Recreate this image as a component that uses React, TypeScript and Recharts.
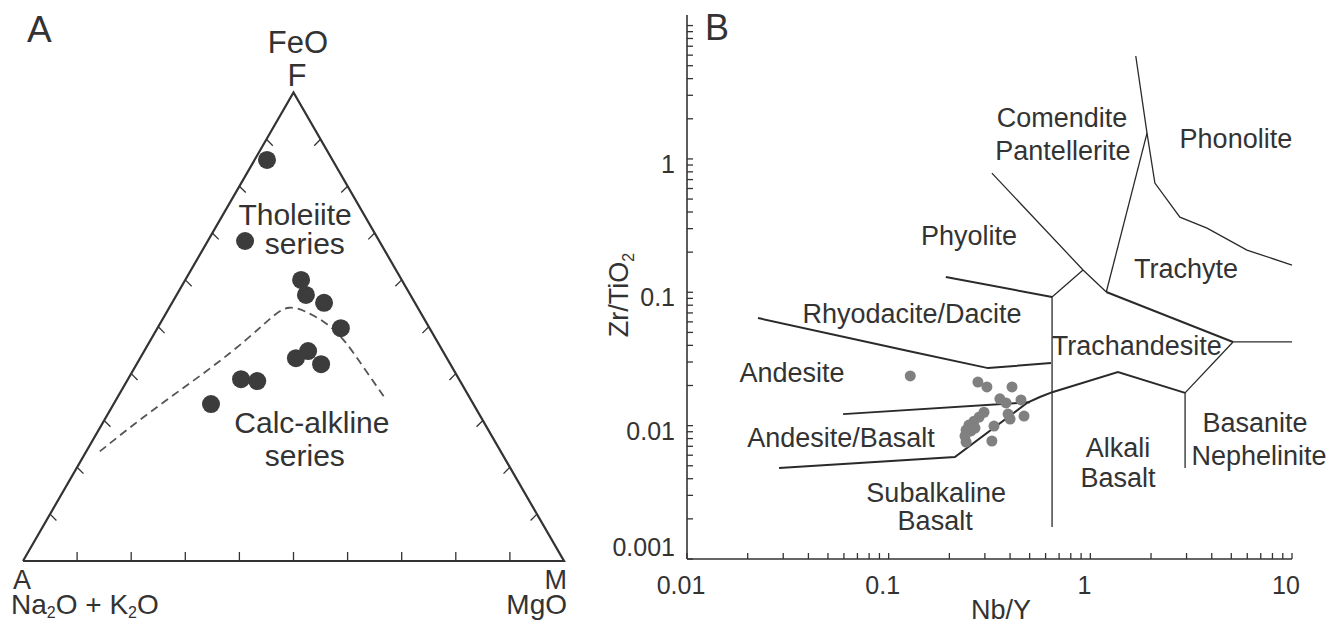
import React from 'react';
import { ScatterChart, Scatter, XAxis, YAxis, ReferenceLine } from 'recharts';

const FONT = '"Liberation Sans", Arial, Helvetica, sans-serif';
const INK = '#333333';
const SQ3 = Math.sqrt(3) / 2;

// ---------- panel A : AFM ternary (wt% share of FeO and MgO, alkalis = rest) ----------
const AFM_FEO = [85.6, 68.3, 60.0, 56.8, 55.1, 49.7, 44.8, 43.3, 42.0, 38.8, 38.4, 33.5];
const AFM_MGO = [2.3, 6.9, 21.4, 23.9, 28.1, 33.9, 30.3, 28.8, 34.1, 20.9, 24.1, 18.0];

// tholeiite / calc-alkaline divide
const DIVIDE_FEO = [23.4, 29.2, 35.2, 41.2, 47.6, 53.1, 54.4, 53.6, 51.0, 47.2, 41.2, 34.8];
const DIVIDE_MGO = [2.5, 5.9, 9.9, 14.2, 18.0, 20.3, 22.0, 25.0, 30.5, 35.9, 42.4, 49.5];

const TERNARY_TICKS = [10, 20, 30, 40, 50, 60, 70, 80, 90];

// ---------- panel B : Zr/TiO2 vs Nb/Y ----------
const NB_Y = [0.128, 0.277, 0.307, 0.409, 0.356, 0.382, 0.453, 0.391, 0.400, 0.469, 0.297,
  0.281, 0.265, 0.250, 0.242, 0.256, 0.239, 0.333, 0.325, 0.242, 0.268];
const ZR_TIO2 = [0.0236, 0.0212, 0.0195, 0.0195, 0.0159, 0.0148, 0.0156, 0.0122, 0.0112, 0.0118, 0.0126,
  0.0116, 0.0108, 0.0101, 0.00927, 0.00912, 0.00836, 0.00993, 0.00767, 0.00753, 0.00959];

// field boundaries, [Nb/Y, Zr/TiO2]
const PHONOLITE_EDGE = [[1.68, 5.91], [1.91, 1.56], [2.09, 0.659], [2.78, 0.366], [3.79, 0.303], [5.98, 0.207], [10, 0.16]];
const COMENDITE_TRACHYTE = [[1.91, 1.56], [1.2, 0.1005]];
const RHYOLITE_COMENDITE = [[0.325, 0.783], [0.92, 0.147], [1.2, 0.1005]];
const RHYOLITE_RHYODACITE = [[0.192, 0.13], [0.646, 0.0923]];
const RHYOLITE_STEP = [[0.646, 0.0923], [0.92, 0.147]];
const SUBALKALINE_ALKALINE = [[0.646, 0.0923], [0.646, 0.00174]];
const TRACHYTE_TRACHYANDESITE = [[1.2, 0.1005], [5.1, 0.0424]];
const PHONOLITE_BASANITE = [[5.1, 0.0424], [10, 0.0424]];
const TRACHYANDESITE_BASANITE = [[5.1, 0.0424], [2.95, 0.0176]];
const BASALT_EDGE = [[2.95, 0.0176], [1.37, 0.0252], [0.653, 0.0179], [0.562, 0.0164], [0.485, 0.0148], [0.213, 0.00582], [0.0286, 0.00481]];
const ALKALI_BASANITE = [[2.95, 0.0176], [2.95, 0.00481]];
const ANDESITE_BASALT = [[0.0594, 0.0122], [0.502, 0.015]];
const ANDESITE_DACITE = [[0.0225, 0.0641], [0.132, 0.0356], [0.311, 0.027], [0.638, 0.0295]];

const X_DECADES = [0.01, 0.1, 1, 10];
const Y_DECADES = [0.001, 0.01, 0.1, 1, 10];
const MINOR = [2, 3, 4, 5, 6, 7, 8, 9];

// region names, placed in data units of each panel
const A_LABELS = [
  { text: 'Tholeiite', x: 0.503, y: 0.621 },
  { text: 'series', x: 0.521, y: 0.5675 },
  { text: 'Calc-alkline', x: 0.534, y: 0.2365 },
  { text: 'series', x: 0.521, y: 0.1756 },
];
const B_LABELS = [
  { text: 'Comendite', x: 0.724, y: 2.06 },
  { text: 'Pantellerite', x: 0.731, y: 1.167 },
  { text: 'Phonolite', x: 5.27, y: 1.436 },
  { text: 'Phyolite', x: 0.25, y: 0.269 },
  { text: 'Trachyte', x: 2.98, y: 0.152 },
  { text: 'Rhyodacite/Dacite', x: 0.1306, y: 0.07 },
  { text: 'Trachandesite', x: 1.7, y: 0.0403 },
  { text: 'Andesite', x: 0.0332, y: 0.0252 },
  { text: 'Andesite/Basalt', x: 0.058, y: 0.00822 },
  { text: 'Subalkaline', x: 0.172, y: 0.00318 },
  { text: 'Basalt', x: 0.17, y: 0.00196 },
  { text: 'Alkali', x: 1.37, y: 0.00692 },
  { text: 'Basalt', x: 1.37, y: 0.00412 },
  { text: 'Basanite', x: 6.55, y: 0.01064 },
  { text: 'Nephelinite', x: 6.86, y: 0.00603 },
];

const toXY = (feo: number, mgo: number) => ({ x: (mgo + feo / 2) / 100, y: (feo / 100) * SQ3 });
const noDot = () => <g />;

const isDecade = (v: number) => Math.abs(Math.log10(v) - Math.round(Math.log10(v))) < 1e-9;
const minorTicks = (decades: number[]) =>
  decades.flatMap((d, i) => (i < decades.length - 1 ? [d, ...MINOR.map(k => d * k)] : [d]));

function XTick({ x, y, payload }: any) {
  const v = payload.value;
  return (
    <g>
      <line x1={x} y1={y} x2={x} y2={y - 6} stroke={INK} strokeWidth={1.3} />
      {isDecade(v) && (
        <text x={x - 6} y={y + 35} textAnchor="middle" fontSize={25} fill={INK} fontFamily={FONT}>{String(v)}</text>
      )}
    </g>
  );
}

function YTick({ x, y, payload }: any) {
  const v = payload.value;
  const show = isDecade(v) && v < 5;
  return (
    <g>
      <line x1={x} y1={y} x2={x + 6} y2={y} stroke={INK} strokeWidth={1.3} />
      {show && (
        <text x={x - 12} y={v === 0.001 ? y - 3 : y + 14} textAnchor="end" fontSize={25} fill={INK} fontFamily={FONT}>{String(v)}</text>
      )}
    </g>
  );
}

function AfmPanel() {
  const samples = AFM_FEO.map((f, i) => toXY(f, AFM_MGO[i]));
  const divide = DIVIDE_FEO.map((f, i) => toXY(f, DIVIDE_MGO[i]));
  const triangle = [toXY(0, 0), toXY(0, 100), toXY(100, 0), toXY(0, 0)];
  const L = 0.0166;
  const d = L * Math.SQRT1_2;
  const ticks: { x1: number; y1: number; x2: number; y2: number }[] = [];
  TERNARY_TICKS.forEach(t => {
    const b = toXY(0, t);
    ticks.push({ x1: b.x, y1: b.y, x2: b.x, y2: b.y + L });
    const l = toXY(t, 0);
    ticks.push({ x1: l.x, y1: l.y, x2: l.x + d, y2: l.y - d });
    const r = toXY(t, 100 - t);
    ticks.push({ x1: r.x, y1: r.y, x2: r.x - d, y2: r.y - d });
  });

  return (
    <ScatterChart width={600} height={626} margin={{ top: 20, right: 36, bottom: 65, left: 23 }}>
      <XAxis type="number" dataKey="x" domain={[0, 1]} hide />
      <YAxis type="number" dataKey="y" domain={[0, 1]} hide />
      <Scatter data={triangle} line={{ stroke: INK, strokeWidth: 2.2, strokeLinejoin: 'miter' }} shape={noDot} isAnimationActive={false} />
      {ticks.map((t, i) => (
        <ReferenceLine key={i} segment={[{ x: t.x1, y: t.y1 }, { x: t.x2, y: t.y2 }]} stroke={INK} strokeWidth={1.3} />
      ))}
      <Scatter data={divide} line={{ stroke: '#555', strokeWidth: 1.8, strokeDasharray: '8 5' }} lineJointType="basis" shape={noDot} isAnimationActive={false} />
      <Scatter data={samples} shape={(p: any) => <circle cx={p.cx} cy={p.cy} r={9} fill="#3c3c3c" />} isAnimationActive={false} />
      <Scatter
        data={A_LABELS}
        shape={(p: any) => (
          <text x={p.cx} y={p.cy} textAnchor="middle" fontSize={30} fill={INK} fontFamily={FONT}>{p.payload.text}</text>
        )}
        isAnimationActive={false}
      />
    </ScatterChart>
  );
}

function WinchesterPanel() {
  const samples = NB_Y.map((x, i) => ({ x, y: ZR_TIO2[i] }));
  const edges = [
    { pts: PHONOLITE_EDGE, w: 1.3 },
    { pts: COMENDITE_TRACHYTE, w: 1.3 },
    { pts: RHYOLITE_COMENDITE, w: 1.3 },
    { pts: RHYOLITE_RHYODACITE, w: 2 },
    { pts: RHYOLITE_STEP, w: 1.3 },
    { pts: SUBALKALINE_ALKALINE, w: 1.3 },
    { pts: TRACHYTE_TRACHYANDESITE, w: 2 },
    { pts: PHONOLITE_BASANITE, w: 1.2 },
    { pts: TRACHYANDESITE_BASANITE, w: 1.3 },
    { pts: BASALT_EDGE, w: 2 },
    { pts: ALKALI_BASANITE, w: 1.3 },
    { pts: ANDESITE_BASALT, w: 2 },
    { pts: ANDESITE_DACITE, w: 2 },
  ];

  return (
    <ScatterChart width={729} height={626} margin={{ top: 15, right: 37, bottom: 27, left: 27 }}>
      <XAxis
        type="number" dataKey="x" scale="log" domain={[0.01, 10]} ticks={minorTicks(X_DECADES)} interval={0}
        tickSize={0} tickMargin={0} tickLine={false} tick={(p: any) => <XTick {...p} />}
        axisLine={{ stroke: INK, strokeWidth: 1.6 }} height={40}
      />
      <YAxis
        type="number" dataKey="y" scale="log" domain={[0.001, 12]} ticks={minorTicks(Y_DECADES)} interval={0}
        tickSize={0} tickMargin={0} tickLine={false} tick={(p: any) => <YTick {...p} />}
        axisLine={{ stroke: INK, strokeWidth: 1.6 }} width={60}
      />
      {edges.map((e, i) => (
        <Scatter key={i} data={e.pts.map(([x, y]) => ({ x, y }))} line={{ stroke: '#2a2a2a', strokeWidth: e.w }} shape={noDot} isAnimationActive={false} />
      ))}
      <Scatter data={samples} shape={(p: any) => <circle cx={p.cx} cy={p.cy} r={5.5} fill="#808080" />} isAnimationActive={false} />
      <Scatter
        data={B_LABELS}
        shape={(p: any) => (
          <text x={p.cx} y={p.cy + 10} textAnchor="middle" fontSize={27} fill={INK} fontFamily={FONT}>{p.payload.text}</text>
        )}
        isAnimationActive={false}
      />
    </ScatterChart>
  );
}

export default function App() {
  const txt = { fill: INK, fontFamily: FONT };
  return (
    <div style={{ position: 'absolute', left: 0, top: 0, width: 1329, height: 626, background: '#fff' }}>
      <div style={{ position: 'absolute', left: 0, top: 0 }}>
        <AfmPanel />
      </div>
      <div style={{ position: 'absolute', left: 600, top: 0 }}>
        <WinchesterPanel />
      </div>
      <svg width={1329} height={626} style={{ position: 'absolute', left: 0, top: 0, pointerEvents: 'none' }}>
        <text x={27} y={42} fontSize={37} {...txt}>A</text>
        <text x={298} y={53} fontSize={31} textAnchor="middle" {...txt}>FeO</text>
        <text x={297} y={86} fontSize={31} textAnchor="middle" {...txt}>F</text>
        <text x={22} y={589} fontSize={27} textAnchor="middle" {...txt}>A</text>
        <text x={11} y={614} fontSize={28} {...txt}>
          Na<tspan fontSize={16} dy={4}>2</tspan><tspan dy={-4}>O + K</tspan><tspan fontSize={16} dy={4}>2</tspan><tspan dy={-4}>O</tspan>
        </text>
        <text x={567} y={589} fontSize={27} textAnchor="end" {...txt}>M</text>
        <text x={567} y={614} fontSize={28} textAnchor="end" {...txt}>MgO</text>

        <text x={705} y={40} fontSize={36} {...txt}>B</text>
        <text x={1001} y={619} fontSize={27} textAnchor="middle" {...txt}>Nb/Y</text>
        <text transform="translate(628,295) rotate(-90)" fontSize={27} textAnchor="middle" {...txt}>
          Zr/TiO<tspan fontSize={16} dy={6}>2</tspan>
        </text>
      </svg>
    </div>
  );
}
